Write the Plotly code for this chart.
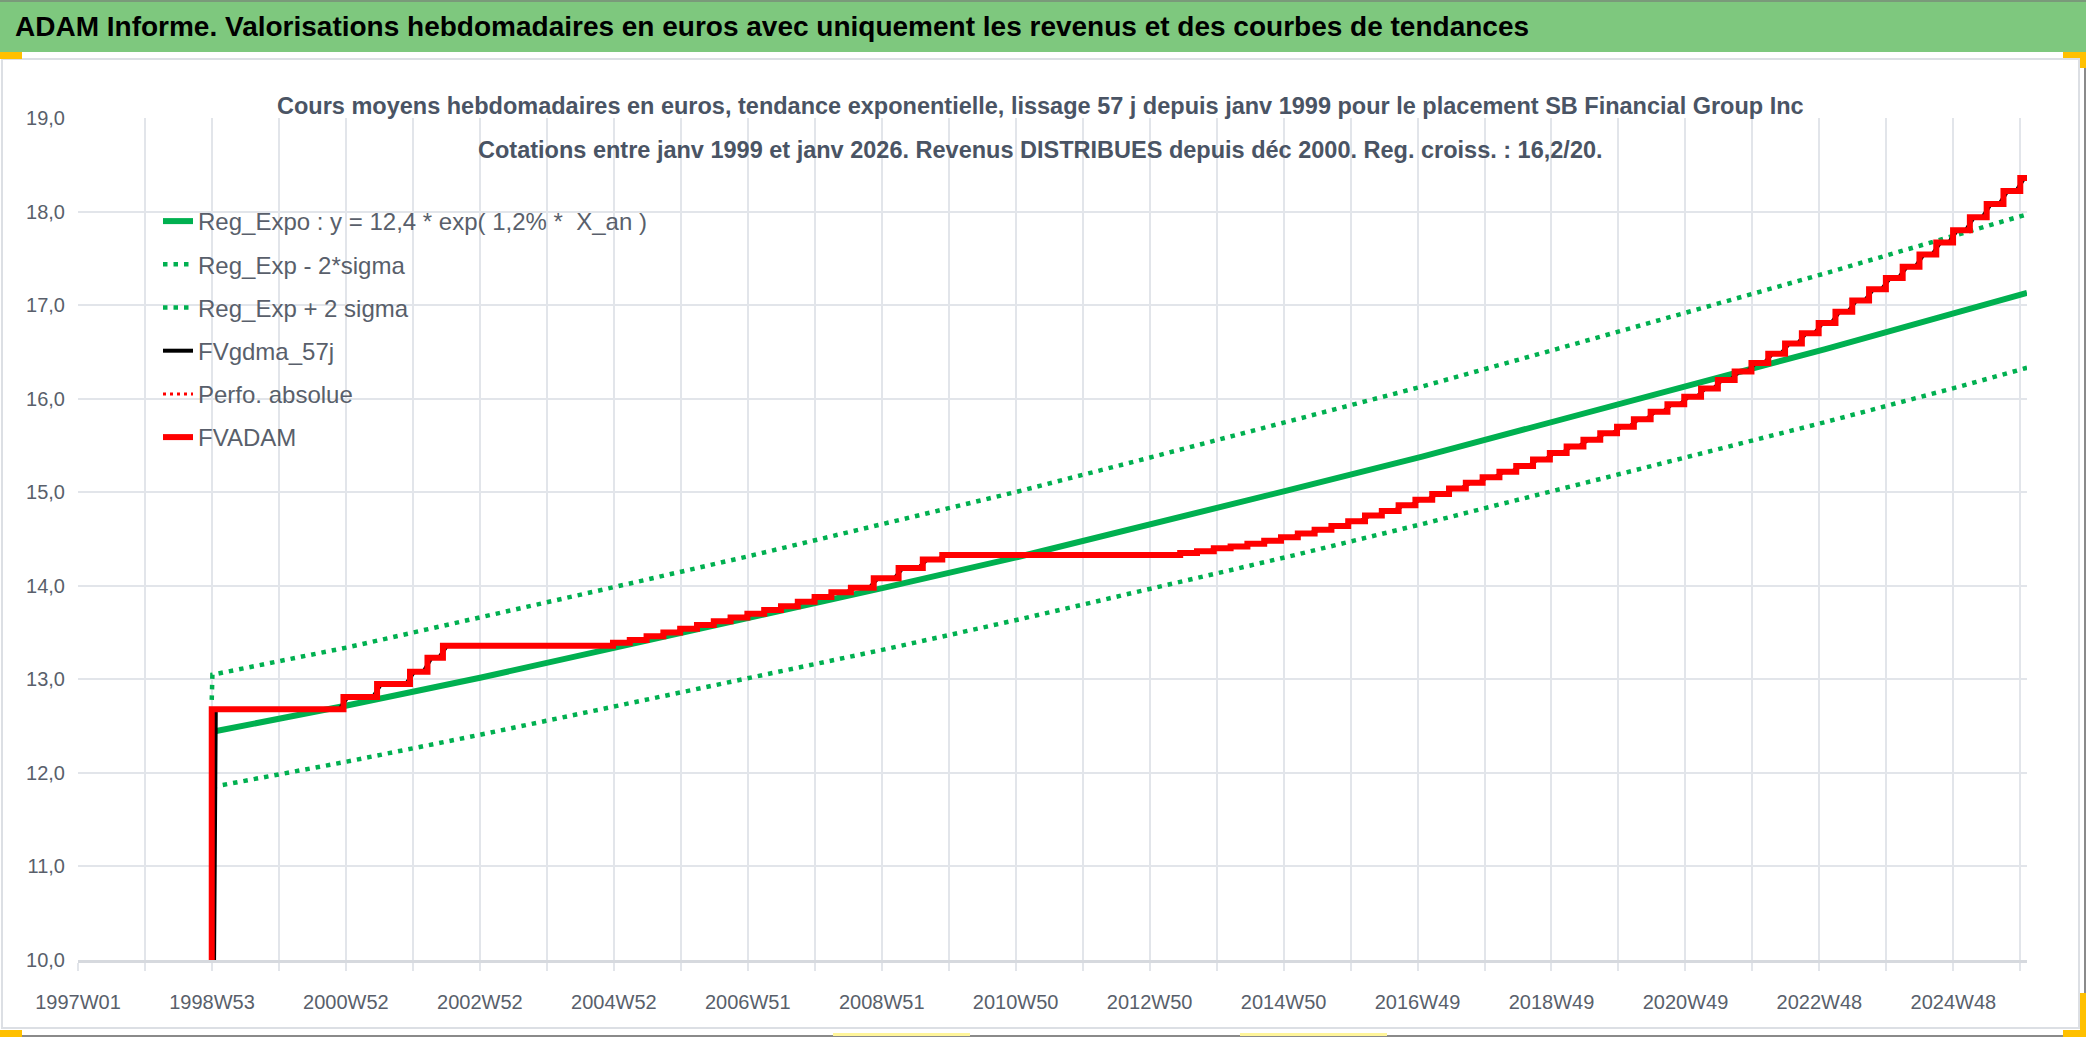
import plotly.graph_objects as go

# --- data (x in decimal years) ---
reg_x = [1999.0, 2001.0, 2003.0, 2005.0, 2007.0, 2009.0, 2011.0, 2013.0,
         2015.0, 2017.0, 2019.0, 2021.0, 2023.0, 2025.0, 2026.0]
reg_y = [12.44, 12.72, 13.02, 13.34, 13.65, 13.98, 14.31, 14.66,
         15.02, 15.38, 15.76, 16.14, 16.53, 16.93, 17.13]
low_y = [11.85, 12.12, 12.41, 12.71, 13.01, 13.32, 13.64, 13.97,
         14.31, 14.66, 15.02, 15.38, 15.75, 16.13, 16.33]
up_x = [1998.99] + reg_x
up_y = [12.78, 13.05, 13.34, 13.66, 13.99, 14.32, 14.67, 15.01, 15.38,
        15.76, 16.13, 16.53, 16.93, 17.34, 17.76, 17.97]

# FVADAM: level after each step
step_x = [1998.98, 1998.99, 2000.95, 2001.45, 2001.94, 2002.20, 2002.43,
          2004.96, 2005.21, 2005.46, 2005.71, 2005.96, 2006.21, 2006.46, 2006.71,
          2006.96, 2007.21, 2007.46, 2007.71, 2007.96, 2008.21, 2008.50, 2008.84,
          2009.21, 2009.57, 2009.86,
          2013.40, 2013.65, 2013.90, 2014.15, 2014.40, 2014.65, 2014.90, 2015.15,
          2015.40, 2015.65, 2015.90, 2016.15, 2016.40, 2016.65, 2016.90, 2017.15,
          2017.40, 2017.65, 2017.90, 2018.15, 2018.40, 2018.65, 2018.90, 2019.15,
          2019.40, 2019.65, 2019.90, 2020.15, 2020.40, 2020.65, 2020.90, 2021.15,
          2021.40, 2021.65, 2021.90, 2022.15, 2022.40, 2022.65, 2022.90, 2023.15,
          2023.40, 2023.65, 2023.90, 2024.15, 2024.40, 2024.65, 2024.90, 2025.15,
          2025.40, 2025.65, 2025.90, 2026.0]
step_y = [0.0, 12.68, 12.81, 12.95, 13.08, 13.23, 13.36,
          13.39, 13.42, 13.46, 13.50, 13.54, 13.58, 13.62, 13.66,
          13.70, 13.74, 13.78, 13.83, 13.88, 13.93, 13.98, 14.08,
          14.19, 14.28, 14.33,
          14.35, 14.37, 14.40, 14.42, 14.45, 14.48, 14.52, 14.56,
          14.60, 14.64, 14.69, 14.75, 14.80, 14.86, 14.92, 14.98,
          15.04, 15.10, 15.16, 15.22, 15.28, 15.35, 15.42, 15.49,
          15.56, 15.63, 15.70, 15.78, 15.86, 15.94, 16.02, 16.11,
          16.20, 16.29, 16.38, 16.48, 16.59, 16.70, 16.81, 16.93,
          17.05, 17.17, 17.29, 17.41, 17.54, 17.67, 17.80, 17.94,
          18.08, 18.22, 18.36, 18.36]

x_labels = ["1997W01", "1998W53", "2000W52", "2002W52", "2004W52", "2006W51",
            "2008W51", "2010W50", "2012W50", "2014W50", "2016W49", "2018W49",
            "2020W49", "2022W48", "2024W48"]

HEADER = ("ADAM Informe. Valorisations hebdomadaires en euros avec uniquement "
          "les revenus et des courbes de tendances")
TITLE_1 = ("Cours moyens hebdomadaires en euros, tendance exponentielle, lissage 57 j "
           "depuis janv 1999 pour le placement SB Financial Group Inc")
TITLE_2 = ("Cotations entre janv 1999 et janv 2026. Revenus DISTRIBUES depuis déc 2000. "
           "Reg. croiss. : 16,2/20.")

FONT = "Liberation Sans, Arial, sans-serif"
GREEN = "#00b050"
GRID = "#e2e5ea"
TXT = "#595f6b"

W, H = 2086, 1037
L, R, T, B = 78, 59, 118, 77


def px(x):
    return (x - L) / (W - L - R)


def py(y):
    return (H - B - y) / (H - T - B)


# 57-day centred average shows as a short ramp around each step
black_x, black_y = [], []
for i, (sx, sy) in enumerate(zip(step_x, step_y)):
    if i == 0:
        black_x.append(sx)
        black_y.append(sy)
        continue
    black_x += [sx - 0.06, sx + 0.06]
    black_y += [step_y[i - 1], sy]

# ticks every 52 weeks, label every other one
week = 7 / 365.25
tick_vals = [1997 + i * 52 * week for i in range(30)]
tick_text = [x_labels[i // 2] if i % 2 == 0 else "" for i in range(30)]

dots = "4.5px,6px"
fig = go.Figure()
fig.add_trace(go.Scatter(x=reg_x, y=reg_y, mode="lines", legendgroup="a",
                         name="Reg_Expo : y = 12,4 * exp( 1,2% *  X_an )",
                         line=dict(color=GREEN, width=6)))
fig.add_trace(go.Scatter(x=reg_x, y=low_y, mode="lines", name="Reg_Exp - 2*sigma",
                         legendgroup="b", line=dict(color=GREEN, width=4.5, dash=dots)))
fig.add_trace(go.Scatter(x=up_x, y=up_y, mode="lines", name="Reg_Exp + 2 sigma",
                         legendgroup="c", line=dict(color=GREEN, width=4.5, dash=dots)))
fig.add_trace(go.Scatter(x=black_x, y=black_y, mode="lines", name="FVgdma_57j",
                         legendgroup="d", line=dict(color="#000000", width=4)))
fig.add_trace(go.Scatter(x=step_x, y=step_y, mode="lines", name="Perfo. absolue",
                         legendgroup="e",
                         line=dict(color="#ff0000", width=3, dash="3px,4px", shape="hv")))
fig.add_trace(go.Scatter(x=step_x, y=step_y, mode="lines", name="FVADAM",
                         legendgroup="f", line=dict(color="#ff0000", width=6, shape="hv")))

shapes = [
    # excel sheet header band
    dict(type="rect", xref="paper", yref="paper", x0=px(0), x1=px(W), y0=py(52), y1=py(0),
         fillcolor="#7ec87e", line=dict(width=0), layer="below"),
    dict(type="line", xref="paper", yref="paper", x0=px(0), x1=px(W), y0=py(1), y1=py(1),
         line=dict(color="#7a9a7a", width=2)),
    # chart area frame
    dict(type="rect", xref="paper", yref="paper", x0=px(2), x1=px(2079), y0=py(1028), y1=py(59),
         line=dict(color="#dcdfe4", width=2), fillcolor="rgba(0,0,0,0)"),
    dict(type="line", xref="paper", yref="paper", x0=px(0), x1=px(W), y0=py(1036), y1=py(1036),
         line=dict(color="#8a8a8a", width=2)),
    dict(type="line", xref="paper", yref="paper", x0=px(2085), x1=px(2085), y0=py(1037), y1=py(52),
         line=dict(color="#8a8a8a", width=2)),
    # orange selection corners
    dict(type="rect", xref="paper", yref="paper", x0=px(0), x1=px(22), y0=py(59), y1=py(52),
         fillcolor="#ffc000", line=dict(width=0)),
    dict(type="rect", xref="paper", yref="paper", x0=px(2063), x1=px(2086), y0=py(58), y1=py(52),
         fillcolor="#ffc000", line=dict(width=0)),
    dict(type="rect", xref="paper", yref="paper", x0=px(2080), x1=px(2086), y0=py(68), y1=py(52),
         fillcolor="#ffc000", line=dict(width=0)),
    dict(type="rect", xref="paper", yref="paper", x0=px(0), x1=px(22), y0=py(1037), y1=py(1030),
         fillcolor="#ffc000", line=dict(width=0)),
    dict(type="rect", xref="paper", yref="paper", x0=px(2063), x1=px(2086), y0=py(1037), y1=py(1030),
         fillcolor="#ffc000", line=dict(width=0)),
    dict(type="rect", xref="paper", yref="paper", x0=px(2080), x1=px(2086), y0=py(1037), y1=py(993),
         fillcolor="#ffc000", line=dict(width=0)),
    dict(type="rect", xref="paper", yref="paper", x0=px(833), x1=px(970), y0=py(1036), y1=py(1033),
         fillcolor="#fff59a", line=dict(width=0)),
    dict(type="rect", xref="paper", yref="paper", x0=px(1240), x1=px(1387), y0=py(1036), y1=py(1033),
         fillcolor="#fff59a", line=dict(width=0)),
    # white box behind the chart title
    dict(type="rect", xref="paper", yref="paper", x0=px(275), x1=px(1806), y0=py(168), y1=py(84),
         fillcolor="#ffffff", line=dict(width=0), layer="below"),
]

annotations = [
    dict(text=HEADER, xref="paper", yref="paper", x=px(13), y=py(27), xanchor="left",
         yanchor="middle", showarrow=False,
         font=dict(family=FONT, size=28, color="#000000", weight="bold")),
    dict(text=TITLE_1, xref="paper", yref="paper", x=px(1040), y=py(106), xanchor="center",
         yanchor="middle", showarrow=False,
         font=dict(family=FONT, size=23.5, color="#4a5464", weight="bold")),
    dict(text=TITLE_2, xref="paper", yref="paper", x=px(1040), y=py(150), xanchor="center",
         yanchor="middle", showarrow=False,
         font=dict(family=FONT, size=23.5, color="#4a5464", weight="bold")),
]

fig.update_layout(
    width=W, height=H,
    margin=dict(l=L, r=R, t=T, b=B),
    paper_bgcolor="#ffffff", plot_bgcolor="#ffffff",
    font=dict(family=FONT, color=TXT, size=20),
    separators=", ",
    showlegend=True,
    legend=dict(x=px(158), y=py(199), xanchor="left", yanchor="top",
                bgcolor="rgba(0,0,0,0)", font=dict(size=24, color=TXT),
                traceorder="grouped", tracegroupgap=9, itemwidth=30),
    shapes=shapes,
    annotations=annotations,
    xaxis=dict(range=[1997.0, 2026.0], tickmode="array", tickvals=tick_vals,
               ticktext=tick_text, showgrid=True, gridcolor=GRID, gridwidth=2,
               ticks="outside", ticklen=8, tickcolor=GRID, tickwidth=2,
               showline=True, linecolor="#d6d9de", linewidth=3,
               zeroline=False, ticklabelstandoff=14, tickangle=0,
               tickfont=dict(size=20, color=TXT)),
    yaxis=dict(range=[10, 19], dtick=1, tick0=10, tickformat=".1f",
               showgrid=True, gridcolor=GRID, gridwidth=2, zeroline=False,
               showline=False, ticks="", ticklabelstandoff=12,
               tickfont=dict(size=20, color=TXT)),
)

fig.write_html("out.html", config={"displayModeBar": False},
               post_script="document.body.style.margin='0';")
